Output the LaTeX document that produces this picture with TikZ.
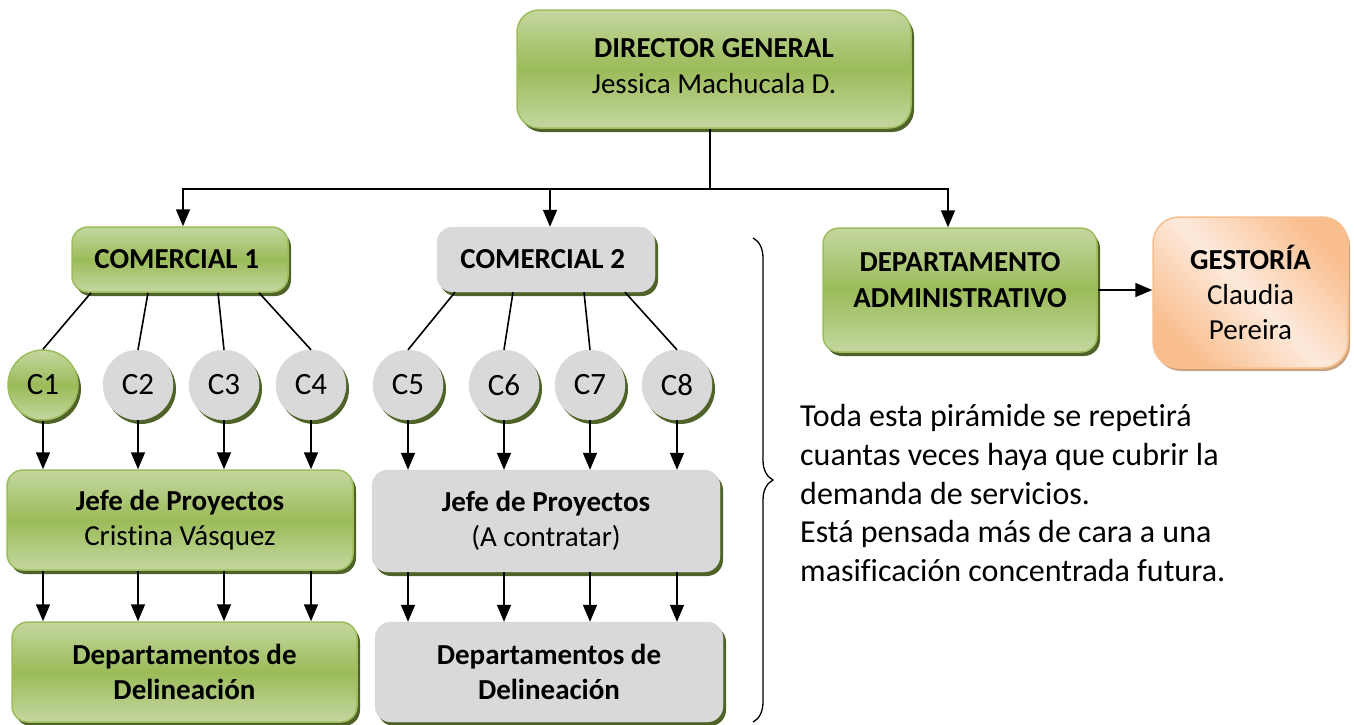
\documentclass[tikz,border=0pt]{standalone}
\usepackage{fontspec}
\setmainfont{Carlito}[Ligatures=NoCommon]
\usetikzlibrary{shapes,arrows.meta,positioning,shadows,decorations.pathreplacing}
\definecolor{GreenMid}{HTML}{9BBB59}
\definecolor{GreenLight}{HTML}{C4D79F}
\definecolor{GreenEdge}{HTML}{9DBD5C}
\definecolor{GreenShadow}{HTML}{4F6228}
\definecolor{BoxGray}{HTML}{D9D9D9}
\definecolor{GestDark}{HTML}{F9BE8E}
\definecolor{GestLight}{HTML}{FDEADC}
\definecolor{GestShadow}{HTML}{C9A37F}
\tikzset{
  every node/.style={
    font=\fontsize{29}{35.4}\selectfont
  },
  greenbox/.style={
    shape=rectangle,
    rounded corners=16pt,
    draw=GreenEdge,
    line width=1.5pt,
    top color=GreenLight,
    bottom color=GreenLight,
    middle color=GreenMid,
    drop shadow={shadow xshift=3pt,shadow yshift=-4pt,fill=GreenShadow,opacity=1},
    align=center
  },
  graybox/.style={
    shape=rectangle,
    rounded corners=16pt,
    draw=BoxGray,
    fill=BoxGray,
    drop shadow={shadow xshift=3pt,shadow yshift=-4pt,fill=GreenShadow,opacity=1},
    align=center
  },
  gestbox/.style={
    shape=rectangle,
    rounded corners=26pt,
    draw=GestDark,
    line width=1.5pt,
    top color=GestDark,
    bottom color=GestDark,
    middle color=GestLight,
    shading angle=-45,
    drop shadow={shadow xshift=2pt,shadow yshift=-3pt,fill=GestShadow,opacity=1},
    align=center
  },
  greencirc/.style={
    greenbox,
    shape=circle,
    rounded corners=0pt,
    minimum size=70pt,
    inner sep=0pt,
    font=\fontsize{31}{36}\selectfont
  },
  graycirc/.style={
    graybox,
    shape=circle,
    rounded corners=0pt,
    minimum size=70pt,
    inner sep=0pt,
    font=\fontsize{31}{36}\selectfont
  },
  note/.style={
    align=left,
    inner sep=0pt,
    font=\fontsize{32}{38.8}\selectfont
  },
  line/.style={
    line width=1.6pt
  },
  arr/.style={
    line width=1.6pt,
    -{Triangle[width=14pt,length=17pt]}
  }
}

\begin{document}
\begin{tikzpicture}[x=1pt,y=-1pt]
\useasboundingbox (0,0) rectangle (1354,724);

% top of the chart
\node [greenbox, minimum width=394pt, minimum height=118pt, rounded corners=22pt, text depth=6pt] (dir) at (714,69) {
  \textbf{DIRECTOR GENERAL}\\Jessica Machucala D.
};
\node [greenbox, minimum width=216pt, minimum height=65pt] (com1) at (180,259.5) { \textbf{COMERCIAL 1} };
\node [graybox, minimum width=218pt, minimum height=65pt] (com2) at (546,259.5) { \textbf{COMERCIAL 2} };
\node [greenbox, minimum width=274pt, minimum height=124pt, text depth=20pt] (admin) at (960,290) {
  \textbf{DEPARTAMENTO}\\\textbf{ADMINISTRATIVO}
};
\node [gestbox, minimum width=195pt, minimum height=151pt] (gest) at (1250.5,292.5) {
  \textbf{GESTORÍA}\\Claudia\\Pereira
};

% comerciales
\node [greencirc] (c1) at (43,385) {C1};
\foreach \n/\x in {2/138,3/224,4/311,5/408,6/504,7/590,8/677}
  \node [graycirc] (c\n) at (\x,385) {C\n};

% jefes y delineacion
\node [greenbox, minimum width=346pt, minimum height=100pt] (jefe1) at (180,520) {
  \textbf{Jefe de Proyectos}\\Cristina Vásquez
};
\node [graybox, minimum width=348pt, minimum height=102pt] (jefe2) at (546,521) {
  \textbf{Jefe de Proyectos}\\(A contratar)
};
\node [greenbox, minimum width=345pt, minimum height=100pt] (deli1) at (184.5,672) {
  \textbf{Departamentos de}\\\textbf{Delineación}
};
\node [graybox, minimum width=348pt, minimum height=100pt] (deli2) at (549,672) {
  \textbf{Departamentos de}\\\textbf{Delineación}
};

\node [note, anchor=north west] (txt) at (800,404) {
  Toda esta pirámide se repetirá\\
  cuantas veces haya que cubrir la\\
  demanda de servicios.\\
  Está pensada más de cara a una\\
  masificación concentrada futura.
};

% connectors
\coordinate (bus) at (710,189);
\draw [line] (dir.south -| bus) -- (bus);
\draw [arr] (bus) -| ([xshift=3pt]com1.north);
\draw [arr] (bus) -| ([xshift=4pt]com2.north);
\draw [arr] (bus) -| ([xshift=-12pt]admin.north);
\draw [arr] (admin.east) -- (admin.east -| gest.west);

\foreach \n/\dx in {1/-89,2/-32,3/38,4/79}
  \draw [line] ([xshift=\dx pt]com1.south) -- (c\n.north);
\foreach \n/\dx in {5/-91,6/-33,7/38,8/79}
  \draw [line] ([xshift=\dx pt]com2.south) -- (c\n.north);

\foreach \n in {1,...,4} {
  \draw [arr] (c\n) -- (c\n |- jefe1.north);
  \draw [arr] (c\n |- jefe1.south) -- (c\n |- deli1.north);
}
\foreach \n in {5,...,8} {
  \draw [arr] (c\n) -- (c\n |- jefe2.north);
  \draw [arr] (c\n |- jefe2.south) -- (c\n |- deli2.north);
}

% brace
\coordinate (bracetop) at (753,238);
\coordinate (bracebot) at (753,722);
\draw [decorate, decoration={brace, amplitude=20pt}, line width=1.3pt] (bracetop) -- (bracebot);

\end{tikzpicture}
\end{document}
